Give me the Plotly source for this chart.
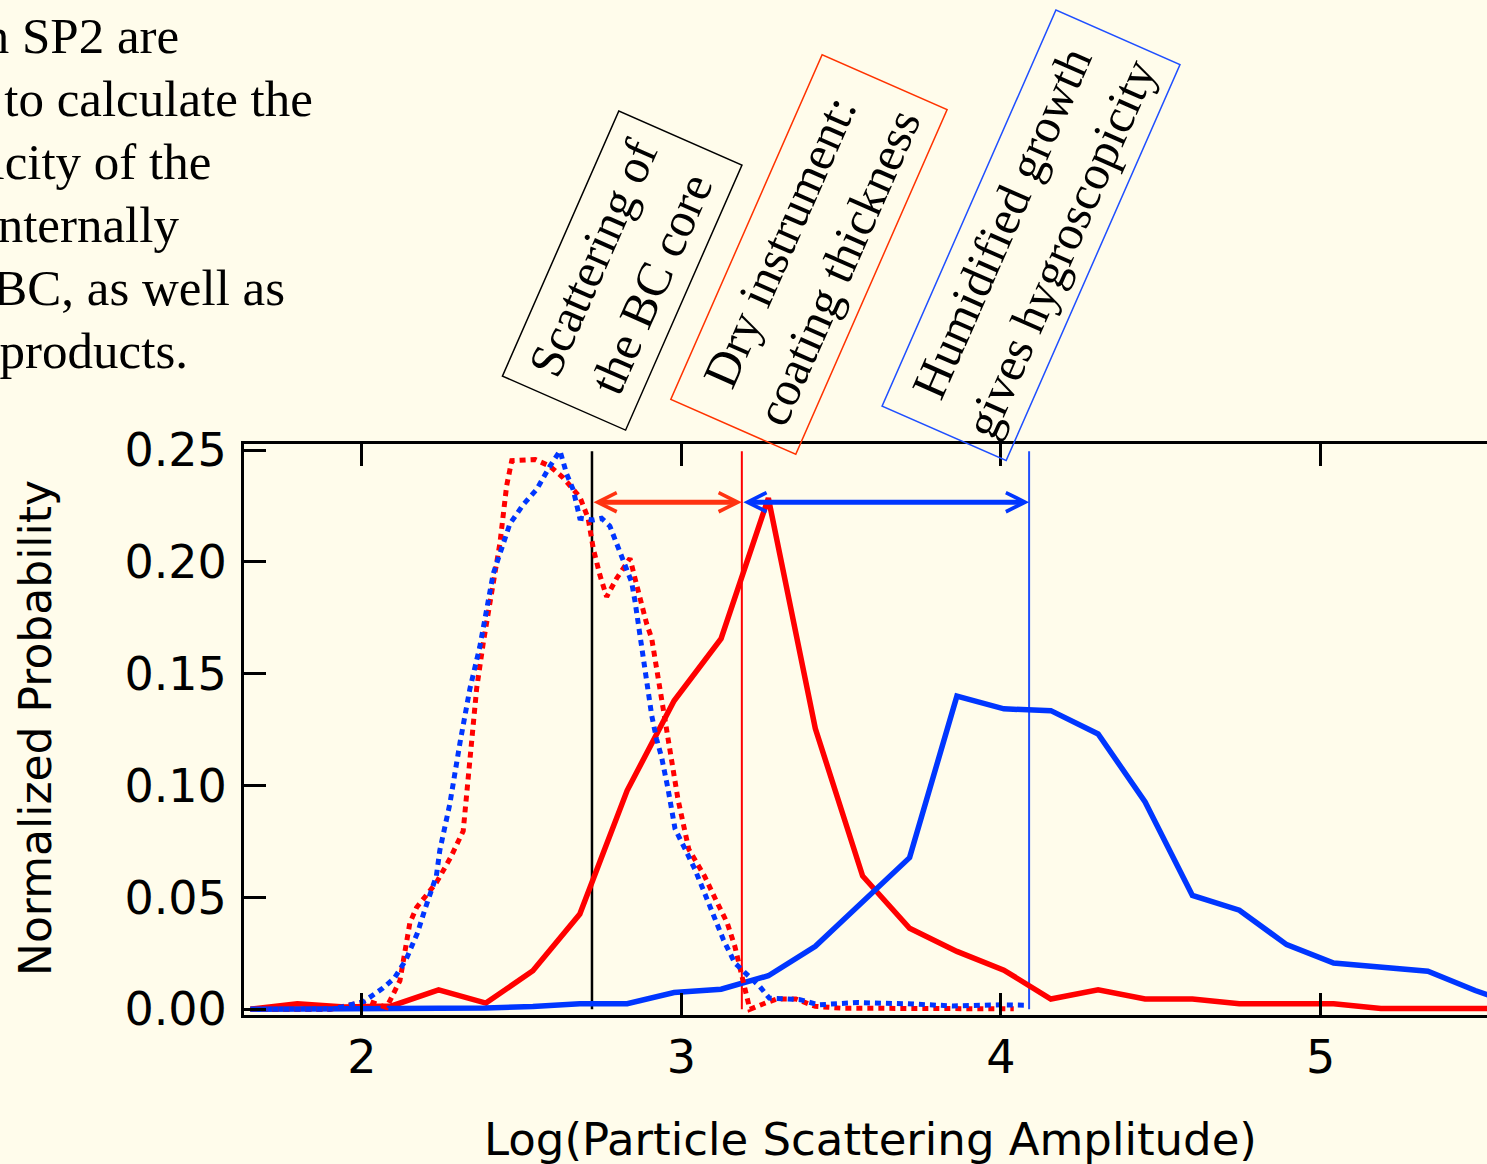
import plotly.graph_objects as go

# ---------------------------------------------------------------------------
# SP2 scattering-amplitude distributions (dry = red, humidified = blue)
# ---------------------------------------------------------------------------

# Bin centres, Log(particle scattering amplitude), for the coated-particle curves
bin_x = [1.651, 1.798, 1.946, 2.093, 2.240, 2.388, 2.535, 2.682, 2.830, 2.977,
         3.124, 3.272, 3.419, 3.567, 3.714, 3.862, 4.009, 4.156, 4.304, 4.451,
         4.599, 4.746, 4.894, 5.041, 5.189, 5.336, 5.484, 5.631]

# Dry instrument, whole particle
dry_particle = [0.0000, 0.0025, 0.0010, 0.0015, 0.0087, 0.0028, 0.0172, 0.0426,
                0.0978, 0.1379, 0.1657, 0.2285, 0.1255, 0.0596, 0.0362, 0.0259,
                0.0175, 0.0046, 0.0087, 0.0046, 0.0046, 0.0025, 0.0025, 0.0025,
                0.0004, 0.0004, 0.0004, 0.0004]

# Humidified instrument, whole particle
humid_particle = [0.0000, 0.0000, 0.0000, 0.0001, 0.0001, 0.0006, 0.0013, 0.0025,
                  0.0025, 0.0075, 0.0090, 0.0150, 0.0282, 0.0480, 0.0678, 0.1400,
                  0.1343, 0.1335, 0.1231, 0.0927, 0.0509, 0.0443, 0.0289, 0.0207,
                  0.0189, 0.0170, 0.0084, 0.0010]

# Dry instrument, BC core scattering
dry_core_x = [1.651, 1.900, 1.983, 2.025, 2.077, 2.119, 2.150, 2.171, 2.233, 2.277,
              2.317, 2.333, 2.359, 2.380, 2.411, 2.432, 2.453, 2.469, 2.542, 2.588,
              2.630, 2.682, 2.708, 2.724, 2.745, 2.766, 2.797, 2.823, 2.839, 2.860,
              2.875, 2.891, 2.907, 2.917, 2.928, 2.938, 2.948, 2.959, 2.989, 3.023,
              3.072, 3.107, 3.143, 3.167, 3.185, 3.197, 3.214, 3.263, 3.299, 3.358,
              3.419, 3.500, 3.750, 4.040]
dry_core_y = [0.0000, 0.0000, 0.0026, 0.0034, 0.0008, 0.0128, 0.0386, 0.0455, 0.0566, 0.0677,
              0.0797, 0.1056, 0.1433, 0.1640, 0.1913, 0.2084, 0.2341, 0.2453, 0.2458, 0.2428,
              0.2376, 0.2290, 0.2195, 0.2060, 0.1940, 0.1844, 0.1926, 0.1978, 0.2016, 0.1896,
              0.1806, 0.1724, 0.1657, 0.1567, 0.1478, 0.1373, 0.1298, 0.1178, 0.0940, 0.0715,
              0.0596, 0.0491, 0.0387, 0.0282, 0.0177, 0.0087, 0.0000, 0.0028, 0.0046, 0.0046,
              0.0013, 0.0005, 0.0003, 0.0002]

# Humidified instrument, BC core scattering
humid_core_x = [1.651, 1.900, 1.946, 2.006, 2.066, 2.102, 2.138, 2.174, 2.197, 2.233,
                2.244, 2.275, 2.307, 2.338, 2.369, 2.390, 2.411, 2.463, 2.505, 2.547,
                2.588, 2.620, 2.641, 2.661, 2.682, 2.724, 2.750, 2.776, 2.802, 2.823,
                2.844, 2.855, 2.865, 2.876, 2.886, 2.897, 2.907, 2.922, 2.938, 2.958,
                2.980, 3.012, 3.042, 3.072, 3.101, 3.131, 3.167, 3.203, 3.245, 3.275,
                3.323, 3.371, 3.430, 3.550, 3.700, 3.850, 4.000, 4.083]
humid_core_y = [0.0000, 0.0000, 0.0013, 0.0035, 0.0095, 0.0140, 0.0222, 0.0342, 0.0446, 0.0596,
                0.0712, 0.0917, 0.1192, 0.1433, 0.1621, 0.1792, 0.1947, 0.2170, 0.2256, 0.2324,
                0.2427, 0.2496, 0.2392, 0.2324, 0.2195, 0.2187, 0.2195, 0.2160, 0.2068, 0.1986,
                0.1910, 0.1821, 0.1717, 0.1612, 0.1508, 0.1403, 0.1313, 0.1209, 0.1126, 0.0985,
                0.0806, 0.0715, 0.0626, 0.0521, 0.0416, 0.0312, 0.0207, 0.0155, 0.0102, 0.0050,
                0.0046, 0.0043, 0.0020, 0.0030, 0.0025, 0.0015, 0.0020, 0.0018]

# Characteristic scattering amplitudes: BC core, dry coated particle, humidified particle
marker_x = [2.720, 3.189, 4.088]
marker_top = 0.2495
arrow_level = 0.2267

x_ticks = [2, 3, 4, 5]
y_ticks = [0.00, 0.05, 0.10, 0.15, 0.20, 0.25]
y_tick_text = ["0.00", "0.05", "0.10", "0.15", "0.20", "0.25"]

box_texts = ["Scattering of<br>the BC core",
             "Dry instrument:<br>coating thickness",
             "Humidified growth<br>gives hygroscopicity"]

paragraph_lines = ["Measurements from an SP2 are",
                   "used to calculate the",
                   "hygroscopicity of the",
                   "coatings on internally",
                   "mixed BC, as well as",
                   "their oxidation products."]

x_title = "Log(Particle Scattering Amplitude)"
y_title = "Normalized Probability"

# ---------------------------------------------------------------------------
# Styling
# ---------------------------------------------------------------------------
BG = "#FFFCEB"
RED = "#FF0000"
ORANGE_RED = "#FF3311"
BLUE = "#0036FF"
BLUE_LIGHT = "#1F4FFF"
SANS = "DejaVu Sans"
SERIF = "Liberation Serif"

W, H = 1487, 1164
M_L, M_R, M_T, M_B = 244, 0, 444, 149
PLOT_W = W - M_L - M_R
PLOT_H = H - M_T - M_B


def paper_x(px):
    return (px - M_L) / PLOT_W


def paper_y(py):
    return (H - M_B - py) / PLOT_H


fig = go.Figure()

# characteristic-amplitude markers (vertical lines)
marker_colors = ["black", RED, BLUE_LIGHT]
marker_widths = [2.5, 2, 2]
for xv, c, w in zip(marker_x, marker_colors, marker_widths):
    fig.add_trace(go.Scatter(x=[xv, xv], y=[0, marker_top], mode="lines",
                             line=dict(color=c, width=w), hoverinfo="skip"))

fig.add_trace(go.Scatter(x=bin_x, y=dry_particle, mode="lines", name="dry",
                         line=dict(color=RED, width=5.5)))
fig.add_trace(go.Scatter(x=bin_x, y=humid_particle, mode="lines", name="humidified",
                         line=dict(color=BLUE, width=5.5)))
fig.add_trace(go.Scatter(x=dry_core_x, y=dry_core_y, mode="lines", name="dry core",
                         line=dict(color=RED, width=5, dash="6px,5px")))
fig.add_trace(go.Scatter(x=humid_core_x, y=humid_core_y, mode="lines", name="humidified core",
                         line=dict(color=BLUE, width=5, dash="6px,5px")))

# double-headed arrows between the markers
for (x_a, x_b), col in [((marker_x[0], marker_x[1]), ORANGE_RED),
                        ((marker_x[1], marker_x[2]), BLUE)]:
    fig.add_annotation(x=x_b, y=arrow_level, ax=x_a, ay=arrow_level,
                       xref="x", yref="y", axref="x", ayref="y",
                       text="", showarrow=True, arrowside="end+start",
                       arrowhead=5, startarrowhead=5,
                       arrowsize=0.75, startarrowsize=0.75,
                       arrowwidth=5, arrowcolor=col,
                       standoff=0, startstandoff=0)

# rotated explanation boxes
box_centers = [(622, 271), (808.6, 254.8), (1030.9, 235.4)]
box_sizes = [(288, 133), (375, 135), (431, 134)]
box_colors = ["black", "#FF3300", BLUE_LIGHT]
for txt, (cx, cy), (bw, bh), col in zip(box_texts, box_centers, box_sizes, box_colors):
    fig.add_annotation(x=paper_x(cx), y=paper_y(cy), xref="paper", yref="paper",
                       xanchor="center", yanchor="middle", text=txt, showarrow=False,
                       textangle=-66.3, width=bw, height=bh, align="center",
                       font=dict(family=SERIF, size=49, color="black"),
                       bordercolor=col, borderwidth=1.5, borderpad=0)

# paragraph running off the left edge
line_right = [181, 315, 213, 181, 287, 190]
line_mid = [36, 99, 162, 225, 288, 351]
for txt, rx, my in zip(paragraph_lines, line_right, line_mid):
    fig.add_annotation(x=paper_x(rx), y=paper_y(my), xref="paper", yref="paper",
                       xanchor="right", yanchor="middle", text=txt, showarrow=False,
                       font=dict(family=SERIF, size=51, color="black"))

# axis titles
fig.add_annotation(x=paper_x(870), y=paper_y(1139), xref="paper", yref="paper",
                   xanchor="center", yanchor="middle", text=x_title, showarrow=False,
                   font=dict(family=SANS, size=45, color="black"))
fig.add_annotation(x=paper_x(35), y=paper_y(728), xref="paper", yref="paper",
                   xanchor="center", yanchor="middle", text=y_title, showarrow=False,
                   textangle=-90, font=dict(family=SANS, size=44, color="black"))

fig.update_layout(
    width=W, height=H,
    margin=dict(l=M_L, r=M_R, t=M_T, b=M_B, pad=0),
    paper_bgcolor=BG, plot_bgcolor=BG,
    showlegend=False,
    font=dict(family=SANS, size=44, color="black"),
)
fig.update_xaxes(range=[1.631, 5.521], tickvals=x_ticks, ticks="inside", ticklen=22,
                 tickwidth=3, tickcolor="black", showline=True, linewidth=3,
                 linecolor="black", mirror="ticks", showgrid=False, zeroline=False,
                 tickfont=dict(family=SANS, size=46, color="black"))
fig.update_yaxes(range=[-0.00255, 0.2527], tickvals=y_ticks, ticktext=y_tick_text,
                 ticks="inside", ticklen=22, tickwidth=3, tickcolor="black",
                 showline=True, linewidth=3, linecolor="black", mirror=False,
                 showgrid=False, zeroline=False, ticklabelstandoff=5,
                 tickfont=dict(family=SANS, size=46, color="black"))

fig.write_html("out.html")
